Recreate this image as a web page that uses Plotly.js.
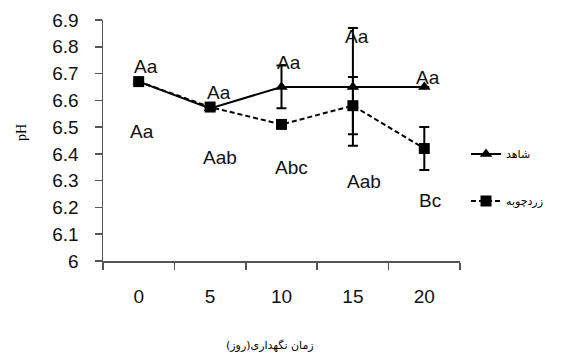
<!DOCTYPE html>
<html>
<head>
<meta charset="utf-8">
<script src="https://cdn.plot.ly/plotly-3.0.1.min.js"></script>
<style>html,body{margin:0;padding:0;background:#fff;}#chart{width:570px;height:354px;}</style>
</head>
<body>
<div id="chart"></div>
<script>
// ---- data ----
const days = ['0', '5', '10', '15', '20'];
const controlName = 'شاهد';
const turmericName = 'زردچوبه';
const controlPH = [6.67, 6.57, 6.65, 6.65, 6.65];
const controlErr = [0, 0, 0.08, 0.22, 0];
const turmericPH = [6.67, 6.575, 6.51, 6.58, 6.42];
const turmericErr = [0, 0, 0, 0.107, 0.08];
const upperLetters = ['Aa', 'Aa', 'Aa', 'Aa', 'Aa'];
const lowerLetters = ['Aa', 'Aab', 'Abc', 'Aab', 'Bc'];
// label placement (value-axis positions)
const upperLabelY = [6.725, 6.63, 6.742, 6.84, 6.685];
const lowerLabelY = [6.482, 6.385, 6.348, 6.296, 6.225];
const upperShift = [7, 9, 7, 4, 4];
const lowerShift = [3, 10, 10, 11, 6];
const xTitle = 'زمان نگهداری(روز)';
const yTitle = 'pH';

const traces = [
  {
    x: days, y: controlPH, name: controlName, type: 'scatter', mode: 'lines+markers',
    line: {color: '#000', width: 2},
    marker: {symbol: 'triangle-up', size: 11, color: '#000'},
    error_y: {type: 'data', array: controlErr, visible: true, color: '#000', thickness: 2, width: 5},
    legend: 'legend'
  },
  {
    x: days, y: turmericPH, name: turmericName, type: 'scatter', mode: 'lines+markers',
    line: {color: '#000', width: 2, dash: '5px,3px'},
    marker: {symbol: 'square', size: 11, color: '#000'},
    error_y: {type: 'data', array: turmericErr, visible: true, color: '#000', thickness: 2, width: 5},
    legend: 'legend2'
  }
];

const annotations = [];
days.forEach((d, i) => {
  annotations.push({x: i, y: upperLabelY[i], text: upperLetters[i], showarrow: false,
    xshift: upperShift[i], font: {family: 'Liberation Sans, Arial', size: 19, color: '#111'}});
  annotations.push({x: i, y: lowerLabelY[i], text: lowerLetters[i], showarrow: false,
    xshift: lowerShift[i], font: {family: 'Liberation Sans, Arial', size: 19, color: '#111'}});
});
annotations.push({xref: 'paper', yref: 'paper', x: (270 - 103) / 357, y: (261 - 345) / 241,
  xanchor: 'center', yanchor: 'middle',
  text: xTitle, showarrow: false, font: {family: 'DejaVu Sans', size: 11, color: '#000'}});
annotations.push({xref: 'paper', yref: 'paper', x: (21 - 103) / 357, y: (261 - 133) / 241,
  xanchor: 'center', yanchor: 'middle',
  text: yTitle, textangle: -90, showarrow: false, font: {family: 'Liberation Serif, Times New Roman', size: 14, color: '#000'}});

const layout = {
  width: 570, height: 354,
  margin: {l: 103, r: 110, t: 20, b: 93, pad: 0},
  paper_bgcolor: '#fff', plot_bgcolor: '#fff',
  font: {family: 'Liberation Sans, Arial', color: '#111'},
  showlegend: true,
  xaxis: {
    type: 'category', range: [-0.5, 4.5], tickson: 'boundaries',
    showgrid: false, zeroline: false, showline: true, linecolor: '#555', linewidth: 1.5,
    ticks: 'outside', ticklen: 7, tickwidth: 1.5, tickcolor: '#555',
    tickfont: {size: 19, color: '#111'}, ticklabelstandoff: 18, fixedrange: true
  },
  yaxis: {
    range: [6, 6.9], dtick: 0.1, tickformat: '.1~f',
    showgrid: false, zeroline: false, showline: true, linecolor: '#555', linewidth: 1.5,
    ticks: 'outside', ticklen: 7, tickwidth: 1.5, tickcolor: '#555',
    tickfont: {size: 19, color: '#111'}, ticklabelstandoff: 12
  },
  legend: {x: (466 - 103) / 357, y: (261 - 154) / 241, xanchor: 'left', yanchor: 'middle',
    bgcolor: 'rgba(0,0,0,0)', borderwidth: 0, font: {family: 'DejaVu Sans', size: 11, color: '#000'}},
  legend2: {x: (466 - 103) / 357, y: (261 - 201) / 241, xanchor: 'left', yanchor: 'middle',
    bgcolor: 'rgba(0,0,0,0)', borderwidth: 0, font: {family: 'DejaVu Sans', size: 11, color: '#000'}},
  annotations: annotations
};

Plotly.newPlot('chart', traces, layout, {displayModeBar: false, staticPlot: true});
</script>
</body>
</html>
